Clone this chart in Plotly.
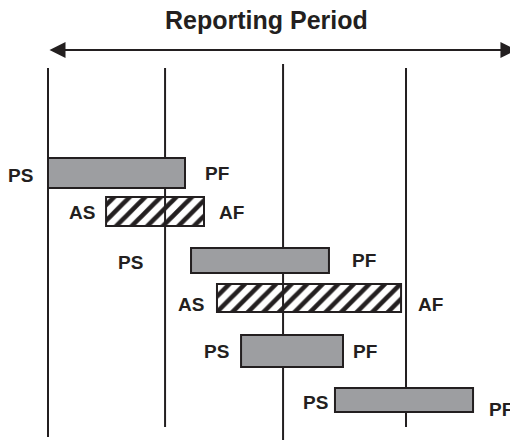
import plotly.graph_objects as go

# ---- data (time axis in weeks, rows in row units) ----
period_bounds = [0.0, 9.92, 19.92, 30.34]
bound_top = [1.7, 1.7, 1.6, 1.7]
bound_bottom = [10.925, 10.675, 11.2, 10.675]

planned_start = [0.0, 12.12, 16.36, 24.32]
planned_finish = [11.61, 23.81, 25.0, 36.02]
planned_row = [4.325, 6.51, 8.775, 10.0]
planned_height = [0.75, 0.625, 0.8, 0.6]

actual_start = [4.92, 14.32]
actual_finish = [13.22, 29.92]
actual_row = [5.29, 7.45]
actual_height = [0.725, 0.7]

label_text = ["PS", "PF", "AS", "AF", "PS", "PF", "AS", "AF", "PS", "PF", "PS", "PF"]
label_x = [-2.33, 14.36, 2.84, 15.55, 6.95, 26.82, 12.16, 32.42, 14.32, 26.86, 22.71, 38.43]
label_y = [4.39, 4.34, 5.31, 5.31, 6.55, 6.51, 7.6, 7.6, 8.79, 8.79, 10.06, 10.24]

title_text = "Reporting Period"

INK = "#231f20"
GRAY = "#9d9ea1"

fig = go.Figure()

fig.add_trace(go.Bar(
    orientation="h",
    base=planned_start,
    x=[f - s for s, f in zip(planned_start, planned_finish)],
    y=planned_row,
    width=planned_height,
    marker=dict(color=GRAY, line=dict(color=INK, width=2)),
    hoverinfo="skip",
    showlegend=False,
))

fig.add_trace(go.Bar(
    orientation="h",
    base=actual_start,
    x=[f - s for s, f in zip(actual_start, actual_finish)],
    y=actual_row,
    width=actual_height,
    marker=dict(
        color="rgba(0,0,0,0)",
        line=dict(color=INK, width=2),
        pattern=dict(shape="/", fgcolor=INK, bgcolor="rgba(0,0,0,0)",
                     size=11, solidity=0.42, fillmode="replace"),
    ),
    hoverinfo="skip",
    showlegend=False,
))

shapes = []
for xb, t, b in zip(period_bounds, bound_top, bound_bottom):
    shapes.append(dict(type="line", xref="x", yref="y", x0=xb, x1=xb, y0=t, y1=b,
                       line=dict(color=INK, width=2), layer="below"))

annotations = []
for txt, lx, ly in zip(label_text, label_x, label_y):
    annotations.append(dict(x=lx, y=ly, xref="x", yref="y", text=txt, showarrow=False,
                            xanchor="center", yanchor="middle",
                            font=dict(family="Liberation Sans", size=19, color=INK, weight="bold")))

# title
annotations.append(dict(x=266 / 510, y=1 - 20 / 440, xref="paper", yref="paper", text=title_text,
                        showarrow=False, xanchor="center", yanchor="middle",
                        font=dict(family="Liberation Sans", size=25, color=INK, weight="bold")))

# double-headed arrow spanning reporting period
annotations.append(dict(x=39.7, y=1.25, xref="x", yref="y",
                        ax=period_bounds[0], ay=1.25, axref="x", ayref="y",
                        text="", showarrow=True, arrowside="end+start",
                        arrowhead=2, startarrowhead=2, arrowsize=1.6, startarrowsize=1.6,
                        arrowwidth=2, arrowcolor=INK, standoff=0, startstandoff=0))

fig.update_layout(
    width=510, height=440,
    margin=dict(l=0, r=0, t=0, b=0),
    paper_bgcolor="white", plot_bgcolor="white",
    barmode="overlay",
    xaxis=dict(range=[-48 / 11.8, 462 / 11.8], visible=False, fixedrange=True),
    yaxis=dict(range=[11, 0], visible=False, fixedrange=True),
    shapes=shapes,
    annotations=annotations,
    showlegend=False,
)

fig.write_html("out.html", config={"displayModeBar": False},
               post_script="document.body.style.margin='0';document.body.style.overflow='hidden';")
